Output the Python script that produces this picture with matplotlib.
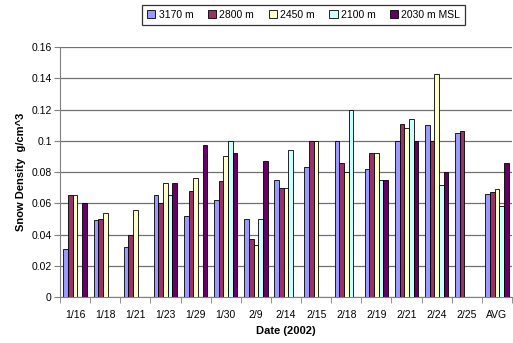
import numpy as np
import matplotlib
matplotlib.use("Agg")
import matplotlib.pyplot as plt

plt.rcParams["font.family"] = ["Liberation Sans", "DejaVu Sans"]

# snow density per sampling date, one list per elevation (nan = no sample)
dates = ["1/16", "1/18", "1/21", "1/23", "1/29", "1/30", "2/9", "2/14",
         "2/15", "2/18", "2/19", "2/21", "2/24", "2/25", "AVG"]
nan = np.nan
d3170 = [0.031, 0.049, 0.032, 0.065, 0.052, 0.062, 0.050, 0.075,
         0.083, 0.100, 0.082, 0.100, 0.110, 0.105, 0.066]
d2800 = [0.065, 0.050, 0.040, 0.060, 0.068, 0.074, 0.037, 0.070,
         0.100, 0.086, 0.092, 0.111, 0.100, 0.106, 0.067]
d2450 = [0.065, 0.054, 0.056, 0.073, 0.076, 0.090, 0.033, 0.070,
         0.100, 0.080, 0.092, 0.108, 0.143, nan, 0.069]
d2100 = [nan, nan, nan, 0.065, nan, 0.100, 0.050, 0.094,
         nan, 0.120, 0.075, 0.114, 0.072, nan, 0.058]
d2030 = [0.060, nan, nan, 0.073, 0.097, 0.092, 0.087, nan,
         nan, nan, 0.075, 0.100, 0.080, nan, 0.086]

series = [
    ("3170 m", d3170, "#9999FF"),
    ("2800 m", d2800, "#993366"),
    ("2450 m", d2450, "#FFFFCC"),
    ("2100 m", d2100, "#CCFFFF"),
    ("2030 m MSL", d2030, "#660066"),
]

fig = plt.figure(figsize=(5.13, 3.43), dpi=100)
ax = fig.add_axes([0.117, 0.134, 0.881, 0.729])

x = np.arange(len(dates))
w = 0.155
for i, (name, vals, col) in enumerate(series):
    vals = np.array(vals, dtype=float)
    ok = ~np.isnan(vals)
    pos = x + (i - 2) * w
    ax.bar(pos[ok], vals[ok], width=w, color=col, edgecolor="black",
           linewidth=0.6, label=name, zorder=3)

ax.set_xlim(-0.5, len(dates) - 0.5)
ax.set_ylim(0, 0.16)
ax.set_yticks(np.arange(0, 0.161, 0.02))
ax.set_yticklabels(["0", "0.02", "0.04", "0.06", "0.08", "0.1",
                    "0.12", "0.14", "0.16"], fontsize=7.5)
ax.set_xticks(x)
ax.set_xticklabels(dates, fontsize=7.5)
ax.set_xticks(np.arange(-0.5, len(dates)), minor=True)
ax.tick_params(axis="x", which="major", length=0, pad=9)
ax.tick_params(axis="x", which="minor", length=4, color="#808080", direction="out")
ax.tick_params(axis="y", length=4, color="#808080", direction="out", pad=2)

ax.yaxis.grid(True, color="#707070", linewidth=0.9, zorder=0)
for s in ["top", "right"]:
    ax.spines[s].set_visible(False)
for s in ["left", "bottom"]:
    ax.spines[s].set_color("#808080")

ax.set_xlabel("Date (2002)", fontsize=8, fontweight="bold", labelpad=5)
ax.set_ylabel("Snow Density  g/cm^3", fontsize=8, fontweight="bold", labelpad=4)

leg = fig.legend(loc="center", bbox_to_anchor=(0.592, 0.956), ncol=5,
                 fontsize=7.5, frameon=True, fancybox=False, handlelength=0.8,
                 handleheight=0.8, handletextpad=0.3, columnspacing=1.4,
                 borderpad=0.45)
leg.get_frame().set_edgecolor("black")
leg.get_frame().set_linewidth(0.9)

fig.savefig("out.png", dpi=100)
